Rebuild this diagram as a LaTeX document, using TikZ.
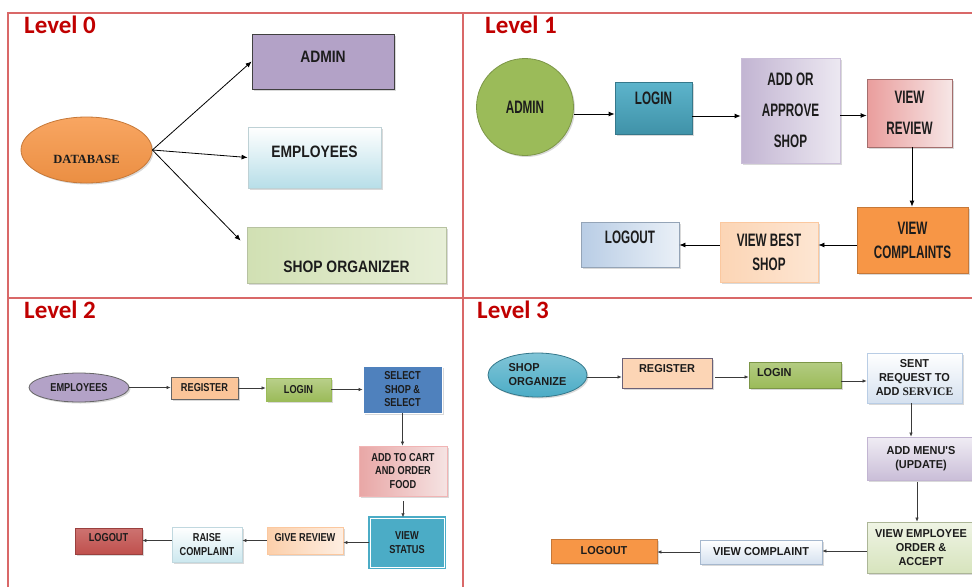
\documentclass[tikz,border=0pt]{standalone}
\usepackage{fontspec}
\usetikzlibrary{shapes.geometric,arrows.meta,shadows,calc}
\newfontfamily\titlefont{Carlito}
\newfontfamily\dbfont{Liberation Serif}
\newfontfamily\zerofont[FakeStretch=0.84]{Liberation Sans}
\newfontfamily\onefont[FakeStretch=0.65]{Liberation Sans}
\newfontfamily\twofont[FakeStretch=0.8]{Liberation Sans}
\newfontfamily\threefont[FakeStretch=0.95]{Liberation Sans}
\definecolor{framered}{RGB}{217,104,104}
\definecolor{titlered}{HTML}{C00000}
\definecolor{boxtext}{HTML}{1C1C1C}
\definecolor{arrowgray}{HTML}{3A3A3A}
\definecolor{lavender}{HTML}{B3A2C7}
\definecolor{paleblue}{HTML}{B7DEE8}
\definecolor{palegreen}{HTML}{D7E4BD}
\definecolor{orangeacc}{HTML}{F79646}
\definecolor{greenacc}{HTML}{9BBB59}
\definecolor{tealacc}{HTML}{4BACC6}
\definecolor{blueacc}{HTML}{4F81BD}
\definecolor{redacc}{HTML}{C0504D}
\definecolor{pinkish}{HTML}{E6B9B8}
\definecolor{peach}{HTML}{FCD5B5}
\definecolor{steelblue}{HTML}{B9CDE5}
\tikzstyle{frameline}=[draw=framered, line width=1.5pt]
\tikzstyle{titletext}=[font=\titlefont\bfseries\fontsize{25}{29}\selectfont, text=titlered, inner sep=0pt, anchor=west]
\tikzstyle{shadebox}=[drop shadow={opacity=0.3,shadow xshift=1.5pt,shadow yshift=-1.5pt}, inner sep=0pt, text=boxtext, line width=0.8pt, align=center]
\tikzstyle{box0}=[shadebox, font=\zerofont\bfseries\fontsize{16.5}{20}\selectfont]
\tikzstyle{box1}=[shadebox, font=\onefont\bfseries\fontsize{18}{24}\selectfont]
\tikzstyle{box2}=[shadebox, font=\twofont\bfseries\fontsize{11.5}{13.5}\selectfont]
\tikzstyle{box3}=[shadebox, font=\threefont\bfseries\fontsize{11.5}{14}\selectfont]
\tikzstyle{flow}=[-{Latex[length=6pt,width=5pt]}, line width=0.8pt, draw=black]
\tikzstyle{thinflow}=[-{Latex[length=4pt,width=3.5pt]}, line width=0.6pt, draw=arrowgray]
\newcommand{\leveltitle}[3]{
\node[titletext] (#1) at (#2) {#3};
}
\begin{document}
\begin{tikzpicture}[x=1pt,y=-1pt]
\useasboundingbox (0,0) rectangle (972,587);
% quadrant frame
\draw[frameline] (8,587) -- (8,13) -- (972,13);
\draw[frameline] (463,13) -- (463,587);
\draw[frameline] (8,298) -- (972,298);

\leveltitle{lev0}{24,25}{Level 0}
\leveltitle{lev1}{485,25}{Level 1}
\leveltitle{lev2}{24,310}{Level 2}
\leveltitle{lev3}{477,310}{Level 3}

% level 0
\node[box0, draw=black!75, fill=lavender, minimum width=142pt, minimum height=55pt, text height=10.7pt, text depth=9pt] (admin0) at (323,61.5) {ADMIN};
\node[box0, draw=paleblue!80!black!60, top color=white, bottom color=paleblue, minimum width=133pt, minimum height=61pt, text height=10.7pt, text depth=11pt] (emp0) at (314.5,157.5) {EMPLOYEES};
\node[box0, draw=palegreen!85!black, left color=palegreen!90!greenacc, right color=palegreen!60, minimum width=199pt, minimum height=56pt, text height=34.7pt, text depth=0pt] (shop0) at (346.5,255) {SHOP ORGANIZER};
\node[shadebox, ellipse, draw=orangeacc!80!black, top color=orangeacc!85, bottom color=orangeacc!95!black, minimum width=131pt, minimum height=66pt, font=\dbfont\bfseries\fontsize{12.5}{15}\selectfont, text height=26.3pt, text depth=0pt] (db0) at (86.5,150) {DATABASE};
\draw[flow] (db0.east) -- (admin0.west);
\draw[flow] (db0.east) -- (emp0.west);
\draw[flow] (db0.east) -- ([xshift=-6pt,yshift=-14pt]shop0.north west);

% level 1
\node[box1, circle, draw=greenacc!80!black, fill=greenacc, minimum size=97pt] (admin1) at (525,107) {ADMIN};
\node[box1, draw=tealacc!70!black, top color=tealacc!90, bottom color=tealacc!85!black, minimum width=77pt, minimum height=52pt, text height=12.9pt, text depth=20pt] (login1) at (653.5,108) {LOGIN};
\node[box1, draw=lavender!70, left color=lavender!80, right color=lavender!25, minimum width=99pt, minimum height=105pt, font=\onefont\bfseries\fontsize{18}{31}\selectfont] (add1) at (790.5,110.5) {ADD OR\\APPROVE\\SHOP};
\node[box1, draw=pinkish!85!red!70!black, left color=pinkish!85!red, right color=pinkish!35, minimum width=85pt, minimum height=68pt, font=\onefont\bfseries\fontsize{18}{31}\selectfont] (review1) at (909.5,113) {VIEW\\REVIEW};
\node[box1, draw=orangeacc!80!black, fill=orangeacc, minimum width=111pt, minimum height=66pt] (compl1) at (912.5,240) {VIEW\\COMPLAINTS};
\node[box1, draw=peach!80!orangeacc, left color=peach, right color=peach!60, minimum width=98pt, minimum height=60pt] (best1) at (769,252) {VIEW BEST\\SHOP};
\node[box1, draw=steelblue!80!black, left color=steelblue, right color=steelblue!30, minimum width=98pt, minimum height=45pt, text height=12.9pt, text depth=15pt] (logout1) at (630,244.5) {LOGOUT};
\draw[flow] ([yshift=-7pt]admin1.east) -- ([yshift=-7pt]admin1.east -| login1.west);
\draw[flow] ([yshift=-8pt]login1.east) -- ([yshift=-8pt]login1.east -| add1.west);
\draw[flow] ([yshift=-5pt]add1.east) -- ([yshift=-5pt]add1.east -| review1.west);
\draw[flow] ([xshift=2.5pt]review1.south) -- ([xshift=2.5pt]review1.south |- compl1.north);
\draw[flow] ([yshift=-5pt]compl1.west) -- ([yshift=-5pt]compl1.west -| best1.east);
\draw[flow] ([yshift=7pt]best1.west) -- ([yshift=7pt]best1.west -| logout1.east);

% level 2
\node[box2, ellipse, draw=black!60, fill=lavender, minimum width=100pt, minimum height=29pt] (emp2) at (79,387.5) {EMPLOYEES};
\node[box2, draw=black!60, fill=orangeacc!55, minimum width=67pt, minimum height=22pt] (reg2) at (204.5,388) {REGISTER};
\node[box2, draw=greenacc, top color=greenacc!70, bottom color=greenacc, minimum width=65pt, minimum height=23pt] (login2) at (298.5,389.5) {LOGIN};
\node[box2, draw=white, fill=blueacc, minimum width=79pt, minimum height=47pt] (sel2) at (402.5,389.5) {SELECT\\SHOP \&\\SELECT};
\node[box2, draw=pinkish!80!red!70, left color=pinkish!90!red, right color=pinkish!40, minimum width=88pt, minimum height=50pt] (cart2) at (403,471) {ADD TO CART\\AND ORDER\\FOOD};
\node[box2, draw=tealacc, double=white, double distance=1pt, line width=1.5pt, fill=tealacc, minimum width=74pt, minimum height=49pt] (stat2) at (407,542.5) {VIEW\\STATUS};
\node[box2, draw=peach!80!orangeacc, left color=peach!90!orangeacc, right color=peach!40, minimum width=76pt, minimum height=27pt, text height=8.2pt, text depth=7pt] (give2) at (305,540.5) {GIVE REVIEW};
\node[box2, draw=paleblue!90!black!70, top color=white, bottom color=paleblue!70, minimum width=70pt, minimum height=35pt] (raise2) at (207,544.5) {RAISE\\COMPLAINT};
\node[box2, draw=redacc!80!black, top color=redacc!80, bottom color=redacc, minimum width=67pt, minimum height=26pt, text height=8.2pt, text depth=8pt] (logout2) at (108.5,541) {LOGOUT};
\draw[thinflow] (emp2.east) -- (emp2.east -| reg2.west);
\draw[thinflow] (reg2.east) -- (reg2.east -| login2.west);
\draw[thinflow] (login2.east) -- (login2.east -| sel2.west);
\draw[thinflow] (sel2.south) -- (sel2.south |- cart2.north);
\draw[thinflow, shorten <=5pt] (cart2.south) -- (cart2.south |- stat2.north);
\draw[thinflow] (stat2.west) -- (stat2.west -| give2.east);
\draw[thinflow] (give2.west) -- (give2.west -| raise2.east);
\draw[thinflow] (give2.west -| raise2.west) -- (give2.west -| logout2.east);

% level 3
\node[box3, ellipse, draw=tealacc!70!black, top color=tealacc!70, bottom color=tealacc, minimum width=99pt, minimum height=44pt, align=left] (shop3) at (537.5,375) {SHOP\\ORGANIZE};
\node[box3, draw=lavender!60!black, fill=peach, minimum width=90pt, minimum height=30pt, text height=8.2pt, text depth=10pt] (reg3) at (667,373) {REGISTER};
\node[box3, draw=greenacc!80!black, top color=greenacc!75, bottom color=greenacc, minimum height=26pt, text width=76pt, inner xsep=8pt, align=left, text height=8.2pt, text depth=6pt] (login3) at (795,375) {LOGIN};
\node[box3, draw=steelblue, top color=white, bottom color=steelblue!60, minimum width=95pt, minimum height=50pt] (sent3) at (914.5,378) {SENT\\REQUEST TO\\ADD {\dbfont\bfseries SERVICE}};
\node[box3, draw=lavender!80, top color=lavender!20, bottom color=lavender!70, minimum width=108pt, minimum height=43pt] (menu3) at (921,458.5) {ADD MENU'S\\(UPDATE)};
\node[box3, draw=palegreen!80!black, top color=palegreen!40, bottom color=palegreen, minimum width=108pt, minimum height=51pt] (vemp3) at (921,547.5) {VIEW EMPLOYEE\\ORDER \&\\ACCEPT};
\node[box3, draw=steelblue!90!black, top color=white, bottom color=steelblue!60, minimum width=122pt, minimum height=24pt] (vcomp3) at (761,552) {VIEW COMPLAINT};
\node[box3, draw=orangeacc!80!black, fill=orangeacc, minimum width=106pt, minimum height=24pt] (logout3) at (604,551) {LOGOUT};
\draw[thinflow] ([yshift=-2pt]shop3.east) -- ([yshift=-2pt]shop3.east -| reg3.west);
\draw[thinflow, shorten <=3pt] ([yshift=-4pt]reg3.east) -- ([yshift=-4pt]reg3.east -| login3.west);
\draw[thinflow] ([yshift=-6pt]login3.east) -- ([yshift=-6pt]login3.east -| sent3.west);
\draw[thinflow] ([xshift=-3.5pt]sent3.south) -- ([xshift=-3.5pt]sent3.south |- menu3.north);
\draw[thinflow, shorten <=2pt] ([xshift=-4pt]menu3.south) -- ([xshift=-4pt]menu3.south |- vemp3.north);
\draw[thinflow] ([yshift=-3.5pt]vemp3.west) -- ([yshift=-3.5pt]vemp3.west -| vcomp3.east);
\draw[thinflow] (vcomp3.west) -- (vcomp3.west -| logout3.east);
\end{tikzpicture}
\end{document}
